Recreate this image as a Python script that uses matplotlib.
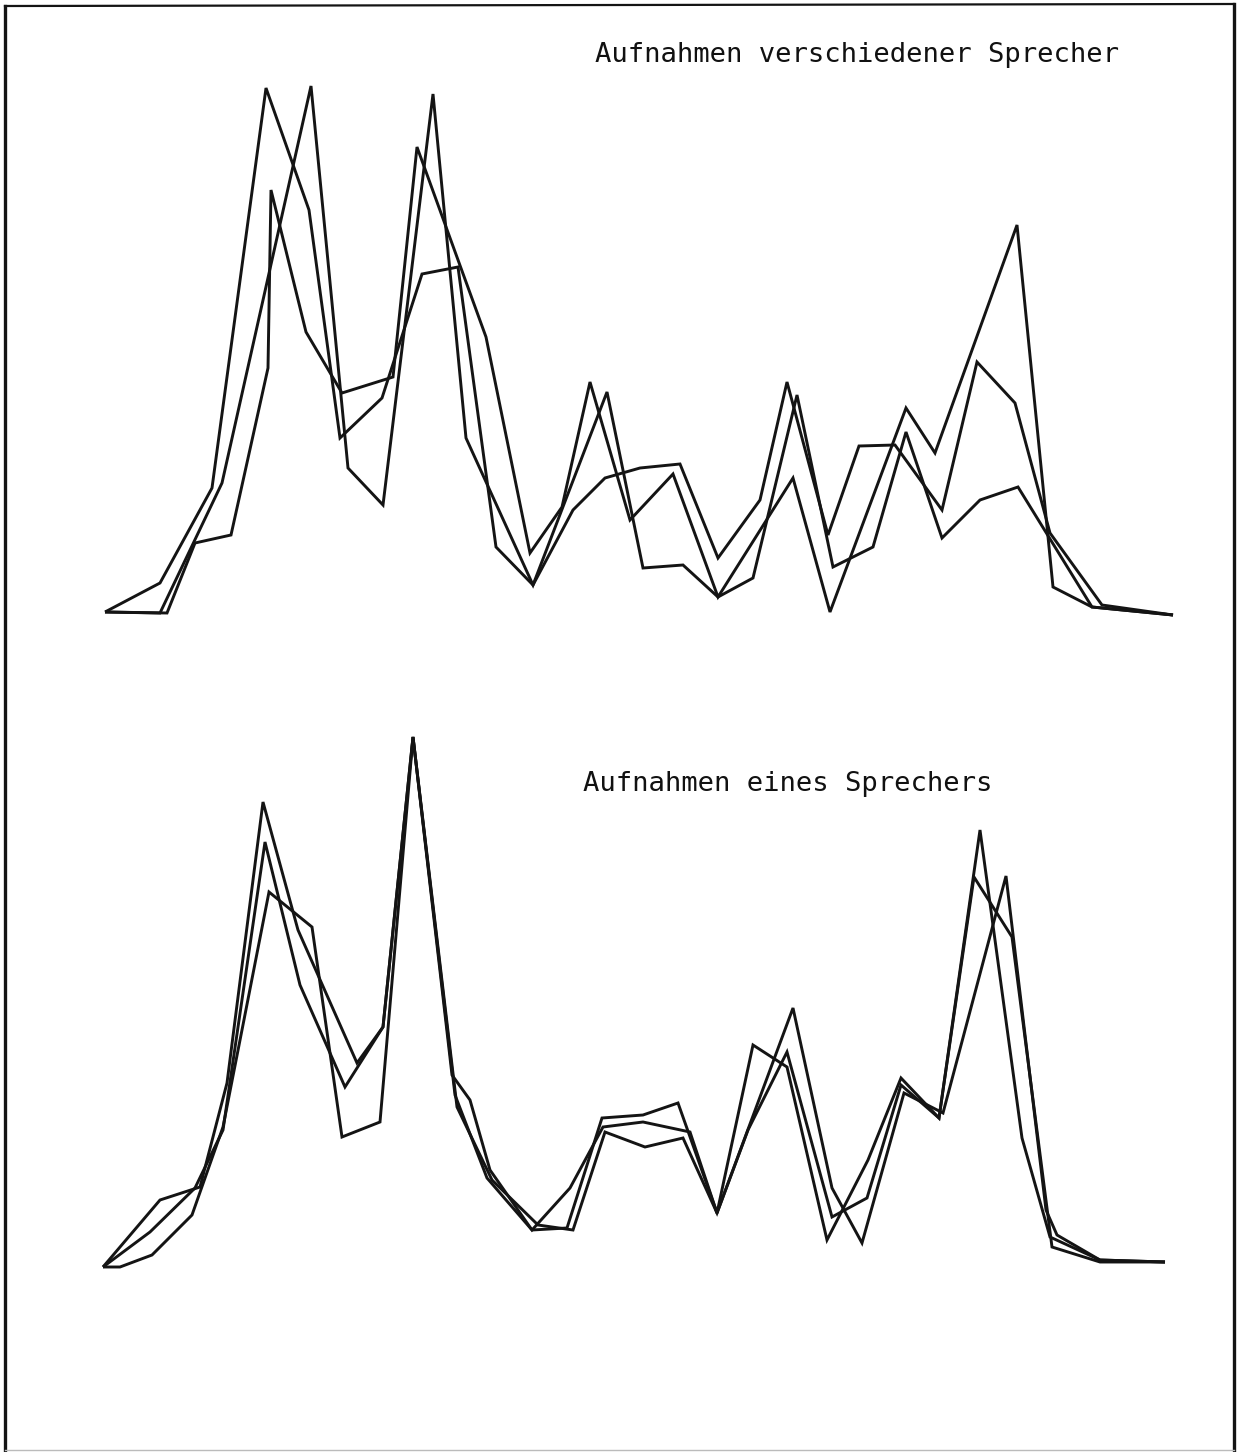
import numpy as np
import matplotlib
matplotlib.use('Agg')
import matplotlib.pyplot as plt
from matplotlib.lines import Line2D

W, H = 1244, 1452

# --- oberes Bild: Aufnahmen verschiedener Sprecher (x = Kanal, y = Pegel ueber Grundlinie)
top_x1 = [105, 160, 212, 266, 309, 340, 382, 422, 458, 496, 533, 573, 605, 640, 680, 718,
          760, 787, 828, 859, 895, 942, 977, 1015, 1050, 1102, 1173]
top_y1 = [1, 30, 125, 525, 403, 175, 215, 339, 346, 66, 28, 103, 135, 145, 149, 55,
          113, 231, 78, 167, 168, 103, 251, 210, 80, 8, -2]

top_x2 = [105, 160, 222, 311, 348, 383, 433, 466, 533, 607, 643, 683, 718, 753, 797, 833,
          873, 906, 942, 980, 1018, 1092, 1173]
top_y2 = [1, 0, 130, 527, 145, 108, 519, 175, 28, 221, 45, 48, 16, 35, 218, 46,
          66, 181, 75, 113, 126, 6, -2]

top_x3 = [105, 167, 195, 231, 268, 271, 306, 342, 393, 417, 486, 530, 562, 590, 630, 673,
          718, 793, 830, 906, 935, 1017, 1053, 1092, 1173]
top_y3 = [1, 0, 70, 78, 245, 423, 281, 220, 236, 466, 276, 60, 106, 231, 93, 139,
          16, 135, 1, 205, 160, 388, 26, 6, -2]

# --- unteres Bild: Aufnahmen eines Sprechers
bot_x1 = [103, 160, 200, 227, 263, 298, 357, 383, 413, 455, 487, 532, 567, 602, 643, 678,
          717, 753, 787, 827, 868, 901, 939, 980, 1022, 1050, 1100, 1165]
bot_y1 = [-2, 65, 78, 182, 463, 335, 202, 238, 528, 170, 87, 35, 37, 147, 150, 162,
          52, 220, 198, 25, 105, 187, 147, 435, 127, 28, 5, 3]

bot_x2 = [103, 150, 195, 223, 265, 300, 345, 383, 413, 457, 492, 538, 573, 605, 645, 683,
          717, 793, 832, 862, 904, 943, 1006, 1046, 1057, 1100, 1165]
bot_y2 = [-2, 33, 77, 135, 423, 280, 178, 238, 528, 158, 85, 40, 35, 133, 118, 127,
          52, 257, 77, 22, 172, 152, 389, 55, 30, 5, 3]

bot_x3 = [103, 120, 152, 192, 223, 269, 312, 342, 380, 413, 452, 470, 490, 532, 570, 603,
          643, 690, 717, 748, 787, 832, 867, 901, 939, 974, 1012, 1052, 1100, 1165]
bot_y3 = [-2, -2, 10, 50, 138, 373, 338, 128, 143, 528, 190, 165, 95, 35, 77, 138,
          143, 133, 52, 135, 213, 48, 67, 180, 147, 388, 328, 18, 3, 3]

top_title = 'Aufnahmen verschiedener Sprecher'
bot_title = 'Aufnahmen eines Sprechers'

ink = '#141414'
lw = 2.1

fig = plt.figure(figsize=(W / 100, H / 100), dpi=100)
fig.patch.set_facecolor('white')

# Achsen in Pixelbereichen der Vorlage (oben: 40..640, Grundlinie 613; unten: 700..1290, Grundlinie 1265)
ax_top = fig.add_axes([0, (H - 640) / H, 1, 600 / H])
ax_top.set_xlim(0, W)
ax_top.set_ylim(613 - 640, 613 - 40)

ax_bot = fig.add_axes([0, (H - 1290) / H, 1, 590 / H])
ax_bot.set_xlim(0, W)
ax_bot.set_ylim(1265 - 1290, 1265 - 700)

for ax, series in [(ax_top, [(top_x1, top_y1), (top_x2, top_y2), (top_x3, top_y3)]),
                   (ax_bot, [(bot_x1, bot_y1), (bot_x2, bot_y2), (bot_x3, bot_y3)])]:
    for xs, ys in series:
        ax.plot(xs, ys, color=ink, lw=lw, solid_joinstyle='miter', solid_capstyle='butt')
    ax.axis('off')
    ax.patch.set_alpha(0)

# Beschriftung (Schreibmaschine)
fig.text(595 / W, 1 - 62 / H, top_title, family='DejaVu Sans Mono', fontsize=19.6,
         color='#111111', ha='left', va='baseline')
fig.text(583 / W, 1 - 791 / H, bot_title, family='DejaVu Sans Mono', fontsize=19.6,
         color='#111111', ha='left', va='baseline')

# Rahmen der Vorlage
fig.add_artist(Line2D([5 / W, 5 / W], [1 - 6 / H, 0], transform=fig.transFigure, color=ink, lw=2.4))
fig.add_artist(Line2D([1234 / W, 1234 / W], [1 - 4 / H, 0], transform=fig.transFigure, color=ink, lw=2.4))
fig.add_artist(Line2D([5 / W, 1234 / W], [1 - 6 / H, 1 - 4 / H], transform=fig.transFigure, color=ink, lw=1.6))
fig.add_artist(Line2D([5 / W, 1234 / W], [1 - 1450 / H, 1 - 1450 / H], transform=fig.transFigure,
                      color='#bbbbbb', lw=1.0))

fig.savefig('out.png', dpi=100, facecolor='white')
